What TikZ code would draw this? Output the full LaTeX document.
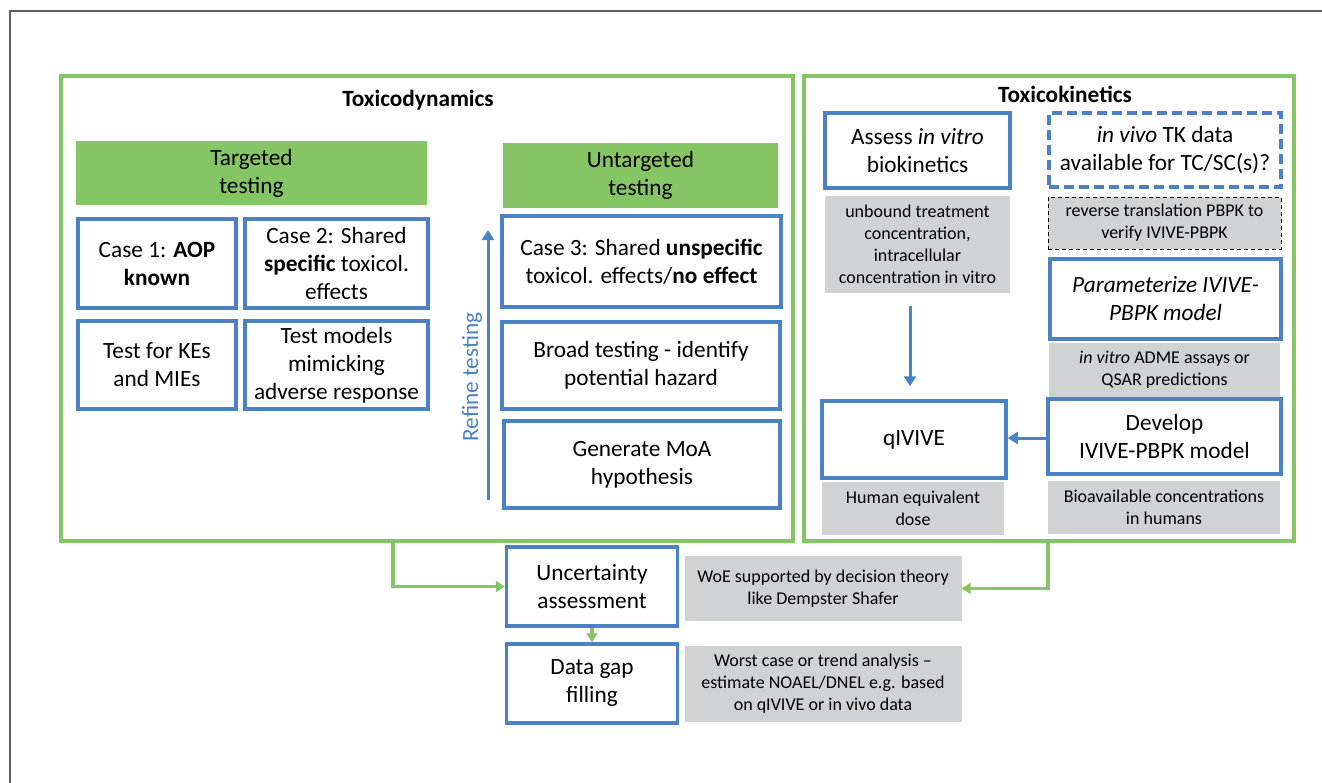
\documentclass[tikz,border=0pt]{standalone}
\usepackage{fontspec}
\setmainfont{Carlito}
\usetikzlibrary{arrows.meta}
\definecolor{tblue}{RGB}{74,130,196}
\definecolor{tgreen}{RGB}{134,197,100}
\definecolor{tgray}{RGB}{209,210,212}
\definecolor{tframe}{RGB}{96,96,96}
\tikzset{
  bbox/.style={draw=tblue, line width=3.5pt, fill=white, align=center, inner sep=0pt, font=\fontsize{23.3}{28}\selectfont},
  gbox/.style={fill=tgray, draw=none, align=center, inner sep=0pt, font=\fontsize{18}{22}\selectfont},
  ghead/.style={fill=tgreen, draw=none, align=center, inner sep=0pt, font=\fontsize{23.3}{28}\selectfont},
  gframe/.style={draw=tgreen, line width=3.5pt, inner sep=0pt},
  barrow/.style={draw=tblue, line width=3pt, -{Triangle[length=10pt,width=12pt]}},
  garrow/.style={draw=tgreen, line width=3.5pt, -{Triangle[length=9pt,width=11pt]}},
}
\begin{document}
\begin{tikzpicture}[x=1pt,y=-1pt]
\useasboundingbox (0,0) rectangle (1322,782);
\fill[white] (0,0) rectangle (1322,782);
\draw[tframe, line width=2pt] (10,790) -- (10,11) -- (1330,11);

% frames
\node[gframe, minimum width=732pt, minimum height=465pt] (td) at (427,308.5) {};
\node[gframe, minimum width=490pt, minimum height=465pt] (tk) at (1049,308.5) {};
\node[font=\fontsize{23.3}{26}\selectfont\bfseries] (tdtitle) at (418,100) {Toxicodynamics};
\node[font=\fontsize{23.3}{26}\selectfont\bfseries] (tktitle) at (1065,94) {Toxicokinetics};

% targeted
\node[ghead, minimum width=351pt, minimum height=64pt] (tgt) at (251.5,173) {Targeted\\testing};
\node[bbox, minimum width=158pt, minimum height=89pt] (c1) at (157,263.5) {Case 1: \textbf{AOP}\\\textbf{known}};
\node[bbox, minimum width=183pt, minimum height=89pt] (c2) at (336.5,263.5) {Case 2: Shared\\\textbf{specific} toxicol.\\effects};
\node[bbox, minimum width=158pt, minimum height=88pt] (ke) at (157,365) {Test for KEs\\and MIEs};
\node[bbox, minimum width=183pt, minimum height=88pt] (tm) at (336.5,365) {Test models\\mimicking\\adverse response};

% untargeted
\node[ghead, minimum width=275pt, minimum height=65pt] (utg) at (640.5,175.5) {Untargeted\\testing};
\node[bbox, minimum width=279pt, minimum height=91pt] (c3) at (641.5,261.5) {Case 3: Shared \textbf{unspecific}\\toxicol. effects/\textbf{no effect}};
\node[bbox, minimum width=278pt, minimum height=87pt] (bt) at (641,365.5) {Broad testing - identify\\potential hazard};
\node[bbox, minimum width=276pt, minimum height=87pt] (moa) at (642,464.5) {Generate MoA\\hypothesis};
\coordinate (rbot) at (488,500);
\coordinate (rtop) at (488,230);
\draw[barrow] (rbot) -- (rtop);
\node[rotate=90, text=tblue, font=\fontsize{23.3}{26}\selectfont] (refine) at (472,377) {Refine testing};

% toxicokinetics
\node[bbox, minimum width=185pt, minimum height=75pt] (assess) at (917.5,150.5) {Assess \textit{in vitro}\\biokinetics};
\node[bbox, dash pattern=on 10pt off 5pt, minimum width=232pt, minimum height=74pt] (invivo) at (1165,150) {\textit{in vivo} TK data\\available for TC/SC(s)?};
\node[gbox, minimum width=185pt, minimum height=97pt] (unbound) at (917.5,244.5) {unbound treatment\\concentration,\\intracellular\\concentration in vitro};
\node[gbox, draw=black, line width=1pt, dash pattern=on 4pt off 3pt, minimum width=233pt, minimum height=52pt] (reverse) at (1164.5,223) {reverse translation PBPK to\\verify IVIVE-PBPK};
\node[bbox, minimum width=231pt, minimum height=80pt] (param) at (1165.5,299) {\textit{Parameterize IVIVE-}\\\textit{PBPK model}};
\node[gbox, minimum width=231pt, minimum height=54pt] (adme) at (1164.5,370) {\textit{in vitro} ADME assays or\\QSAR predictions};
\node[bbox, minimum width=184pt, minimum height=77pt] (qivive) at (914,439.5) {qIVIVE};
\node[bbox, minimum width=233pt, minimum height=75pt] (develop) at (1164.5,436.5) {Develop\\IVIVE-PBPK model};
\node[gbox, minimum width=182pt, minimum height=53pt] (hed) at (913,508.5) {Human equivalent\\dose};
\node[gbox, minimum width=232pt, minimum height=53pt] (bio) at (1164,507.5) {Bioavailable concentrations\\in humans};
\draw[barrow, shorten <=13pt, shorten >=13pt] (unbound.south -| 910,0) -- (qivive.north -| 910,0);
\draw[barrow] (develop.west |- 0,438) -- (qivive.east |- 0,438);

% bottom
\node[bbox, minimum width=171pt, minimum height=79pt] (unc) at (592,586.5) {Uncertainty\\assessment};
\node[gbox, minimum width=277pt, minimum height=65pt] (woe) at (823,588.5) {WoE supported by decision theory\\like Dempster Shafer};
\node[bbox, minimum width=171pt, minimum height=79pt] (dgf) at (592,683.5) {Data gap\\filling};
\node[gbox, minimum width=277pt, minimum height=76pt] (worst) at (823,684) {Worst case or trend analysis --\\estimate NOAEL/DNEL e.g. based\\on qIVIVE or in vivo data};

\draw[garrow] (td.south -| 393,0) |- (unc.west);
\draw[garrow] (tk.south -| 1048,0) |- (woe.east);
\draw[garrow] (unc.south) -- (dgf.north);
\end{tikzpicture}
\end{document}
